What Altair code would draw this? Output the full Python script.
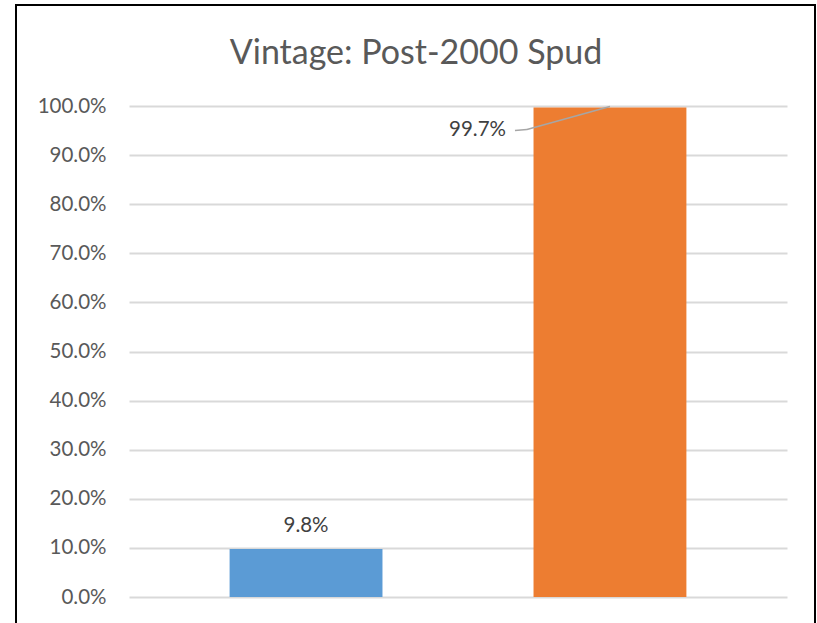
import altair as alt
import pandas as pd

# Share of wells spudded after 2000, by group
groups = ["Group 1", "Group 2"]
shares = [0.098, 0.997]
colors = ["#5B9BD5", "#ED7D31"]

df = pd.DataFrame({"group": groups, "share": shares, "color": colors})

FONT = "Lato"
W, H = 658, 491          # plot area
LEFT, TOP = 129, 106      # offsets of the plot area inside the 817x623 canvas

x_enc = alt.X("group:N", sort=groups, axis=None,
              scale=alt.Scale(paddingInner=0.497, paddingOuter=0.331))
y_enc = alt.Y("share:Q",
              scale=alt.Scale(domain=[0, 1], nice=False),
              axis=alt.Axis(values=[i / 10 for i in range(11)], format=".1%",
                            title=None, domain=False, ticks=False,
                            labelPadding=23, labelFont=FONT, labelFontSize=20.5,
                            labelColor="#595959", grid=True,
                            gridColor="#D9D9D9", gridWidth=2))

base = alt.Chart(df)

bars = base.mark_bar().encode(
    x=x_enc, y=y_enc,
    color=alt.Color("color:N", scale=None),
)

label_low = base.transform_filter(alt.datum.share < 0.5).mark_text(
    font=FONT, fontSize=20.5, color="#404040", baseline="alphabetic", dy=-17
).encode(x=x_enc, y=y_enc, text=alt.Text("share:Q", format=".1%"))

label_high = base.transform_filter(alt.datum.share >= 0.5).mark_text(
    font=FONT, fontSize=20.5, color="#404040", align="right", baseline="middle",
    dx=-104, dy=23
).encode(x=x_enc, y=y_enc, text=alt.Text("share:Q", format=".1%"))

# leader line from the label to the top of the tall bar
leader_a = base.transform_filter(alt.datum.share >= 0.5).mark_rule(
    color="#A6A6A6", strokeWidth=1.5, yOffset=-1, x2Offset=-83, y2Offset=22
).encode(x=x_enc, y=y_enc, x2="group:N", y2="share:Q")

leader_b = base.transform_filter(alt.datum.share >= 0.5).mark_rule(
    color="#A6A6A6", strokeWidth=1.5, xOffset=-83, yOffset=22,
    x2Offset=-95, y2Offset=23
).encode(x=x_enc, y=y_enc, x2="group:N", y2="share:Q")

# outer chart frame
frame = alt.Chart(pd.DataFrame({"k": [0]})).mark_rect(
    fill=None, stroke="black", strokeWidth=2, clip=False
).encode(
    x=alt.value(16 - LEFT), x2=alt.value(815 - LEFT),
    y=alt.value(5 - TOP), y2=alt.value(660 - TOP),
)

# the title sits inside the frame, so its offset is measured down from the frame top
chart = alt.layer(bars, leader_a, leader_b, label_low, label_high, frame).properties(
    width=W, height=H,
    title=alt.Title("Vintage: Post-2000 Spud", font=FONT, fontSize=34,
                    fontWeight="normal", color="#595959", anchor="middle",
                    baseline="alphabetic", offset=-94, dx=-42),
    autosize=alt.AutoSizeParams(type="none"),
    padding={"left": LEFT, "top": TOP, "right": 817 - LEFT - W, "bottom": 623 - TOP - H},
    background="white",
).configure_view(stroke=None)

chart.save("out.html", embed_options={"renderer": "svg", "actions": False})
